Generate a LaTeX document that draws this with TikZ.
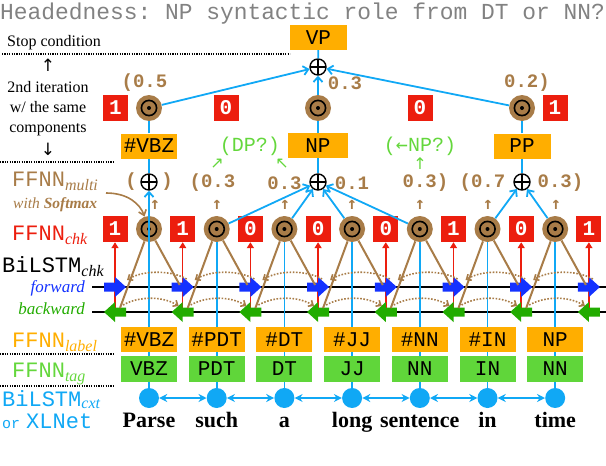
\documentclass[tikz,border=0pt]{standalone}
\usepackage{fontspec}
\setmainfont{Liberation Serif}
\setmonofont{Liberation Mono}
\newfontfamily\djs{DejaVu Sans}
\newfontfamily\djm{DejaVu Sans Mono}
\usetikzlibrary{arrows.meta,calc}
\definecolor{orgC}{RGB}{255,174,0}
\definecolor{grnC}{RGB}{96,214,58}
\definecolor{redC}{RGB}{236,30,14}
\definecolor{brnC}{RGB}{168,124,72}
\definecolor{bluC}{RGB}{16,168,245}
\definecolor{fwdC}{RGB}{20,50,255}
\definecolor{bwdC}{RGB}{34,172,0}
\definecolor{ltgC}{RGB}{100,215,60}
\definecolor{gryC}{RGB}{130,130,130}
\newcommand{\myfs}[1]{\fontsize{#1}{#1}\selectfont}
\newcommand{\sublab}[2]{{\ttfamily\myfs{22}#1}{\itshape\myfs{16}\raisebox{-4pt}{#2}}}
\tikzset{
  lbox/.style={fill=orgC, minimum width=56pt, minimum height=25pt, inner sep=0pt, font=\ttfamily\myfs{21}},
  gbox/.style={fill=grnC, minimum width=56pt, minimum height=26pt, inner sep=0pt, font=\ttfamily\myfs{21}},
  rbox/.style={fill=redC, minimum width=25pt, minimum height=26pt, inner sep=0pt, text=white, font=\ttfamily\bfseries\myfs{21}},
  odotn/.style={circle, fill=brnC, minimum size=26pt, inner sep=0pt,
    path picture={\draw[black, line width=1.6pt] (path picture bounding box.center) circle (7.6pt);
                  \fill[black] (path picture bounding box.center) circle (2pt);}},
  oplusn/.style={circle, draw, line width=1.4pt, fill=white, minimum size=16pt, inner sep=0pt,
    path picture={\draw[black, line width=1.4pt] ([xshift=-9pt]path picture bounding box.center) -- ([xshift=9pt]path picture bounding box.center)
                  ([yshift=-9pt]path picture bounding box.center) -- ([yshift=9pt]path picture bounding box.center);}},
  wdot/.style={circle, fill=bluC, minimum size=20pt, inner sep=0pt},
  wtxt/.style={inner sep=0pt, font=\bfseries\myfs{22}},
  bl/.style={draw=bluC, line width=1.8pt},
  bltip/.style={-{Straight Barb[length=5pt,width=9pt]}},
  redarr/.style={draw=redC, line width=1.5pt, -{Triangle[length=6pt,width=7pt]}},
  brnl/.style={draw=brnC, line width=2pt},
  dotbr/.style={draw=brnC, line width=1.6pt, dash pattern=on 1.6pt off 1.6pt, -{Straight Barb[length=4pt,width=7pt]}},
  dotsep/.style={line width=1.2pt, dash pattern=on 1.2pt off 1.2pt},
  lft/.style={inner sep=0pt, font=\myfs{16}},
  numt/.style={inner sep=0pt, text=brnC, font=\ttfamily\bfseries\myfs{19}},
  upt/.style={inner sep=0pt, text=brnC, font=\djm\bfseries\myfs{17}, text height=10pt, text depth=0pt},
  gtxt/.style={inner sep=0pt, text=ltgC, font=\ttfamily\myfs{20}},
  garr/.style={inner sep=0pt, text=ltgC, font=\djs\myfs{16}, text height=8pt, text depth=0pt}
}
\begin{document}
\begin{tikzpicture}[x=1pt,y=-1pt]
\path[use as bounding box] (0,0) rectangle (606,466);
% title
\node[anchor=base west, inner sep=0pt, text=gryC, font=\ttfamily\myfs{22.9}] (title) at (0,19) {Headedness: NP syntactic role from DT or NN?};
% left labels
\node[lft, anchor=base west] (stop) at (7,46) {Stop condition};
\node[inner sep=0pt, font=\djs\myfs{17}] (upa) at (48,65) {↑};
\node[lft, anchor=base] (it1) at (48,92) {2nd iteration};
\node[lft, anchor=base] (it2) at (48,112) {w/ the same};
\node[lft, anchor=base] (it3) at (48,132) {components};
\node[inner sep=0pt, font=\djs\myfs{17}] (dna) at (48,149) {↓};
\draw[dotsep] (2,54) -- (290,54);
\draw[dotsep] (0,162) -- (113,162);
\draw[dotsep] (0,354) -- (113,354);
\draw[dotsep] (0,386) -- (113,386);
\node[anchor=base west, inner sep=0pt, text=brnC] (lmulti) at (12,186) {\sublab{FFNN}{multi}};
\node[anchor=base west, inner sep=0pt, text=brnC, font=\itshape\myfs{15.5}] (lsoft) at (13,208) {with \textbf{Softmax}};
\node[anchor=base west, inner sep=0pt, text=redC] (lchk) at (12,240) {\sublab{FFNN}{chk}};
\node[anchor=base west, inner sep=0pt] (lbichk) at (2,272) {\sublab{BiLSTM}{chk}};
\node[anchor=base east, inner sep=0pt, text=fwdC, font=\itshape\myfs{17}] (lfwd) at (85,292) {forward};
\node[anchor=base east, inner sep=0pt, text=bwdC, font=\itshape\myfs{17}] (lbwd) at (85,314) {backward};
\node[anchor=base west, inner sep=0pt, text=orgC] (llab) at (12,347) {\sublab{FFNN}{label}};
\node[anchor=base west, inner sep=0pt, text=ltgC] (ltag) at (12,377) {\sublab{FFNN}{tag}};
\node[anchor=base west, inner sep=0pt, text=bluC] (lcxt) at (2,406) {{\ttfamily\myfs{22}BiLSTM}{\itshape\myfs{16}\raisebox{-2.5pt}{cxt}}};
\node[anchor=base west, inner sep=0pt, text=bluC, font=\ttfamily] (lxl) at (2,428) {{\myfs{15}or} {\myfs{22}XLNet}};
% BiLSTM_chk lines
\draw[line width=2pt] (92,287) -- (606,287);
\draw[line width=2pt] (92,312) -- (606,312);
% boundary coordinates and chunk flags
\foreach \k/\x/\v in {0/115/1,1/182.7/1,2/250.4/0,3/318.1/0,4/385.8/0,5/453.5/1,6/521.2/0,7/588.9/1}{
  \coordinate (f\k) at (\x,287);
  \coordinate (b\k) at (\x,312);
  \node[rbox] (r\k) at (\x,229) {\v};
  \draw[redarr] (b\k) -- (r\k);
}
% words and first-level multi nodes
\foreach \n/\x/\w in {1/149/Parse,2/216.7/such,3/284.4/a,4/352.1/long,5/419.8/sentence,6/487.5/in,7/555.2/time}{
  \node[wdot] (w\n) at (\x,398) {};
  \node[wtxt, anchor=base] (t\n) at (\x,427) {\w};
  \node[odotn] (c\n) at (\x,229) {};
}
% first-level sums
\node[oplusn] (p1) at (149,182) {};
\node[oplusn] (p2) at (318,182) {};
\node[oplusn] (p3) at (522,182) {};
% blue vertical lines
\draw[bl, bltip] (w1) -- (p1);
\foreach \n in {2,...,7}{ \draw[bl] (w\n) -- (c\n); }
\foreach \n in {2,3,4,5}{ \draw[bl, bltip] (c\n) -- (p2); }
\foreach \n in {6,7}{ \draw[bl, bltip] (c\n) -- (p3); }
% forward / backward block arrows
\foreach \k in {0,...,7}{
  \fill[fwdC] (f\k) ++(-11,-4.5) -- ++(11,0) -- ++(0,-5.5) -- ++(11,10) -- ++(-11,10) -- ++(0,-5.5) -- ++(-11,0) -- cycle;
  \fill[bwdC] (b\k) ++(11,-4.5) -- ++(-11,0) -- ++(0,-5.5) -- ++(-11,10) -- ++(11,10) -- ++(0,-5.5) -- ++(11,0) -- cycle;
}
% brown attention lines
\foreach \n/\kl/\kr in {1/0/1,2/1/2,3/2/3,4/3/4,5/4/5,6/5/6,7/6/7}{
  \draw[brnl] (c\n) -- ($(b\kl)+(5,-4)$);
  \draw[brnl] (c\n) -- ($(f\kr)+(-3,-2)$);
}
% dotted difference arcs
\foreach \k/\kk in {0/1,1/2,2/3,3/4,4/5,5/6,6/7}{
  \draw[dotbr] ($(f\kk)+(4,-8)$) .. controls ($(f\kk)+(-12,-17)$) and ($(f\k)+(28,-17)$) .. ($(f\k)+(12,-7)$);
  \draw[dotbr] ($(b\k)+(8,-7)$) .. controls ($(b\k)+(24,-16)$) and ($(b\kk)+(-20,-16)$) .. ($(b\kk)+(-4,-6)$);
}
% label and tag boxes
\foreach \n/\x/\a/\b in {1/149/\#VBZ/VBZ,2/216.7/\#PDT/PDT,3/284.4/\#DT/DT,4/352.1/\#JJ/JJ,5/419.8/\#NN/NN,6/487.5/\#IN/IN,7/555.2/NP/NN}{
  \node[lbox] (la\n) at (\x,339.5) {\a};
  \node[gbox] (tg\n) at (\x,369) {\b};
}
% word links
\foreach \n/\m in {1/2,2/3,3/4,4/5,5/6,6/7}{
  \draw[draw=bluC, line width=1.5pt, {Stealth[length=8pt,width=8pt]}-{Stealth[length=8pt,width=8pt]}] (w\n) -- (w\m);
}
% first-level numbers
\node[numt] (lp) at (131,182) {(};
\node[numt] (rp) at (167,182) {)};
\node[numt] (n2) at (212.5,183) {(0.3};
\node[numt] (n3) at (284.5,183) {0.3};
\node[numt] (n4) at (352,183) {0.1};
\node[numt] (n5) at (425.5,183) {0.3)};
\node[numt] (n6) at (482.5,183) {(0.7};
\node[numt] (n7) at (560.5,183) {0.3)};
\foreach \n/\x in {1/155,2/217,3/285,4/352,5/420,6/488,7/556}{
  \node[upt] (ua\n) at (\x,204) {↑};
}
% green hints
\node[gtxt] (dp) at (250,146) {(DP?)};
\node[garr] (ga1) at (217,164.5) {↗};
\node[garr] (ga2) at (282,164.5) {↖};
\node[gtxt] (np) at (420,146) {({\djm ←}NP?)};
\node[garr] (ga3) at (420,165.5) {↑};
% first-level phrase boxes
\node[lbox] (lb1) at (149,146) {\#VBZ};
\node[lbox, minimum width=60pt] (lb2) at (318,145.5) {NP};
\node[lbox, minimum width=57pt] (lb3) at (522,146) {PP};
% second-level
\node[odotn] (u1) at (149,108) {};
\node[odotn] (u2) at (318,108) {};
\node[odotn] (u3) at (522,108) {};
\node[oplusn] (q) at (318,67) {};
\node[lbox, minimum width=57pt] (vp) at (318.5,37.5) {VP};
\draw[bl] (p1) -- (lb1);
\draw[bl] (lb1) -- (u1);
\draw[bl] (p2) -- (lb2);
\draw[bl] (lb2) -- (u2);
\draw[bl] (p3) -- (lb3);
\draw[bl] (lb3) -- (u3);
\draw[bl, bltip] (u1) -- (q);
\draw[bl, bltip] (u2) -- (q);
\draw[bl, bltip] (u3) -- (q);
\draw[bl] (q) -- (vp);
\node[rbox] (s1) at (115.5,108) {1};
\node[rbox] (s2) at (226,108) {0};
\node[rbox] (s3) at (420,108) {0};
\node[rbox] (s4) at (555,108) {1};
\node[numt] (m1) at (144.5,83) {(0.5};
\node[numt] (m2) at (345,83) {0.3};
\node[numt] (m3) at (527,83) {0.2)};
% softmax pointer
\coordinate (cs) at (106,193);
\draw[draw=brnC, line width=1.6pt, -{Straight Barb[length=5pt,width=8pt]}] (cs) .. controls (128,193) and (140,204) .. (c1);
\end{tikzpicture}
\end{document}
